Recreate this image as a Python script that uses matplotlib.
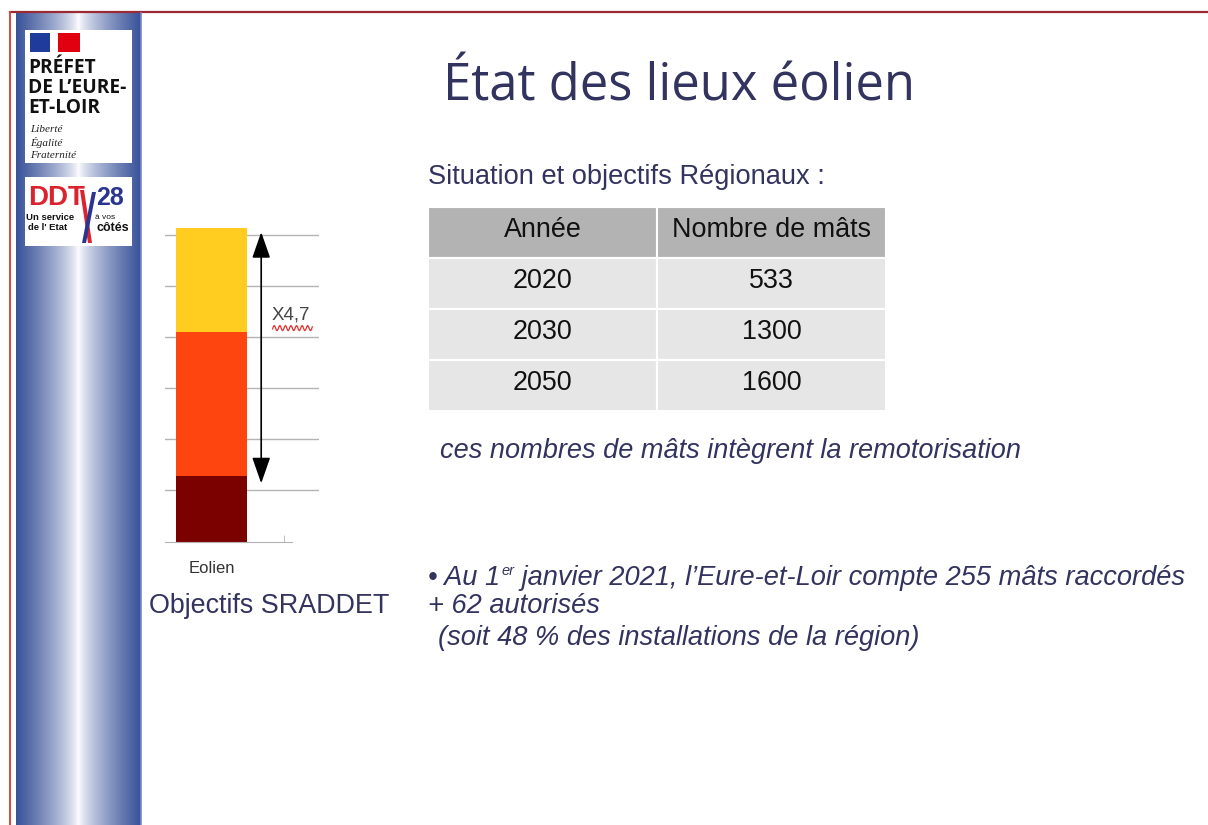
import numpy as np
import matplotlib
matplotlib.use("Agg")
import matplotlib.pyplot as plt
from matplotlib.patches import Rectangle, Polygon

# --- data ---
categorie = ["Eolien"]
segments = [640, 1410, 1020]          # stacked bar, bottom to top
seg_colors = ["#7b0000", "#ff450f", "#ffcc1f"]
grid_step = 500
facteur = "X4,7"

annees = ["2020", "2030", "2050"]
nb_mats = [533, 1300, 1600]
entetes = ["Année", "Nombre de mâts"]

W, H = 1208, 825
NAVY = "#33335f"
plt.rcParams['font.family'] = ['Liberation Sans', 'DejaVu Sans']

fig = plt.figure(figsize=(W / 100, H / 100), dpi=100)
fig.patch.set_facecolor("white")


def fx(x):
    return x / W


def fy(y):
    return 1 - y / H


def box(x0, y0, x1, y1):
    return [fx(x0), fy(y1), fx(x1) - fx(x0), fy(y0) - fy(y1)]


# --- frame lines ---
fig.add_artist(plt.Line2D([fx(10), 1], [fy(12), fy(12)], color="#9b2a35", lw=1.6))
fig.add_artist(plt.Line2D([fx(10), fx(10)], [fy(12), 0], color="#d9443f", lw=1.4))

# --- sidebar gradient ---
ax_s = fig.add_axes(box(16, 13, 141, 825))
t = np.linspace(-1, 1, 256)
w = np.abs(t) ** 0.75
blue = np.array([0.22, 0.32, 0.60])
grad = (1 - w)[:, None] * np.ones(3) + w[:, None] * blue
ax_s.imshow(np.tile(grad[None, :, :], (4, 1, 1)), aspect="auto", extent=[0, 1, 0, 1])
ax_s.axis("off")
fig.add_artist(plt.Line2D([fx(141), fx(141)], [fy(13), 0], color="#7b86c8", lw=1.2))

# --- prefecture logo ---
fig.add_artist(Rectangle((fx(25), fy(163)), fx(132) - fx(25), fy(30) - fy(163),
                         transform=fig.transFigure, facecolor="white", edgecolor="none"))
fig.add_artist(Rectangle((fx(30), fy(52)), fx(50) - fx(30), fy(33) - fy(52),
                         transform=fig.transFigure, facecolor="#1f3c9a", edgecolor="none"))
fig.add_artist(Rectangle((fx(58), fy(52)), fx(80) - fx(58), fy(33) - fy(52),
                         transform=fig.transFigure, facecolor="#e1000f", edgecolor="none"))
fig.add_artist(Rectangle((fx(50), fy(52)), fx(58) - fx(50), fy(33) - fy(52),
                         transform=fig.transFigure, facecolor="white", edgecolor="none"))
for i, ligne in enumerate(["PRÉFET", "DE L’EURE-", "ET-LOIR"]):
    fig.text(fx(28), fy(68 + 20 * i), ligne, fontsize=13.8, fontweight="bold",
             color="#111111", va="center", ha="left", family=["Open Sans", "DejaVu Sans"])
for i, ligne in enumerate(["Liberté", "Égalité", "Fraternité"]):
    fig.text(fx(30), fy(130 + 12.5 * i), ligne, fontsize=8, style="italic",
             color="#222222", va="center", ha="left", family=["Liberation Serif"])

# --- DDT logo ---
fig.add_artist(Rectangle((fx(25), fy(246)), fx(132) - fx(25), fy(177) - fy(246),
                         transform=fig.transFigure, facecolor="white", edgecolor="none"))
fig.text(fx(28), fy(198), "DDT", fontsize=20, fontweight="bold", color="#d9232e",
         va="center", ha="left")
fig.text(fx(96), fy(198), "28", fontsize=18, fontweight="bold", color="#2a3590",
         va="center", ha="left")
fig.add_artist(Polygon([(fx(80), fy(190)), (fx(84), fy(190)), (fx(92), fy(243)), (fx(88), fy(243))],
                       closed=True, transform=fig.transFigure, facecolor="#d9232e", edgecolor="none"))
fig.add_artist(Polygon([(fx(92), fy(192)), (fx(96), fy(192)), (fx(86), fy(243)), (fx(82), fy(243))],
                       closed=True, transform=fig.transFigure, facecolor="#2a3590", edgecolor="none"))
fig.text(fx(26), fy(218), "Un service", fontsize=6.8, fontweight="bold", color="#111111",
         va="center", ha="left")
fig.text(fx(28), fy(228), "de l' Etat", fontsize=6.8, fontweight="bold", color="#111111",
         va="center", ha="left")
fig.text(fx(95), fy(218), "à vos", fontsize=6, color="#111111", va="center", ha="left")
fig.text(fx(97), fy(228), "côtés", fontsize=9, fontweight="bold", color="#111111",
         va="center", ha="left")

# --- title ---
fig.text(fx(443), fy(87), "État des lieux éolien", fontsize=36.5, color=NAVY,
         va="center", ha="left", family=["Open Sans", "DejaVu Sans"])
fig.text(fx(428), fy(177), "Situation et objectifs Régionaux :", fontsize=19.6,
         color=NAVY, va="center", ha="left")

# --- stacked bar chart ---
ax = fig.add_axes(box(165, 225, 319, 541.5))
bottom = 0
for val, col in zip(segments, seg_colors):
    ax.bar(categorie, [val], bottom=bottom, width=1.0, color=col, zorder=2)
    bottom += val
total = bottom
ax.set_xlim(-0.655, 1.514)
ax.set_ylim(0, total + 30)
for g in np.arange(grid_step, total, grid_step):
    ax.axhline(g, color="#b3b3b3", lw=1.0, zorder=1)
for s in ["top", "right", "left"]:
    ax.spines[s].set_visible(False)
ax.spines["bottom"].set_bounds(-0.655, 1.134)
ax.spines["bottom"].set_color("#b3b3b3")
ax.set_yticks([])
ax.set_xticks([0])
ax.set_xticklabels(categorie, fontsize=12, color="#333333")
ax.tick_params(axis="x", length=0, pad=14)
ax.set_xticks([1.02], minor=True)
ax.tick_params(axis="x", which="minor", length=5, color="#b3b3b3", direction="in")
ax.patch.set_alpha(0)

ax.annotate("", xy=(0.70, total - 40), xytext=(0.70, segments[0] - 70),
            arrowprops=dict(arrowstyle="<|-|>,head_length=0.8,head_width=0.28",
                            color="black", lw=1.2, mutation_scale=20,
                            shrinkA=0, shrinkB=0), zorder=3)
ax.text(0.85, 2215, facteur, fontsize=13.5, color="#444444", va="center", ha="left")
xs = np.linspace(0.86, 1.42, 60)
ax.plot(xs, 2090 + 25 * np.sin(xs * 80), color="#e03030", lw=0.9, zorder=3)

fig.text(fx(149), fy(606), "Objectifs SRADDET", fontsize=19.4, color=NAVY,
         va="center", ha="left")

# --- table ---
ax_t = fig.add_axes(box(428, 207, 886, 411))
ax_t.set_xlim(0, 2)
ax_t.set_ylim(len(annees) + 1, 0)
ax_t.axis("off")
split = (657 - 428) / (886 - 428) * 2
cols_x = [(0, split), (split, 2)]
rows = [entetes] + [[a, str(n)] for a, n in zip(annees, nb_mats)]
for r, row in enumerate(rows):
    fc = "#b3b3b3" if r == 0 else "#e6e6e6"
    for c, txt in enumerate(row):
        x0, x1 = cols_x[c]
        ax_t.add_patch(Rectangle((x0, r), x1 - x0, 1, facecolor=fc,
                                 edgecolor="white", lw=1.5))
        ax_t.text((x0 + x1) / 2, r + 0.45, txt, fontsize=19.4, color="#111111",
                  ha="center", va="center")

fig.text(fx(440), fy(451), "ces nombres de mâts intègrent la remotorisation",
         fontsize=19.5, style="italic", color=NAVY, va="center", ha="left")

# --- bullet text ---
fs = 19.6
t1 = fig.text(fx(428), fy(585), "• Au 1", fontsize=fs, style="italic", color=NAVY,
              va="baseline", ha="left")
t2 = fig.text(0, 0, "er", fontsize=10.5, style="italic", color=NAVY, va="top", ha="left",
              transform=None)
t3 = fig.text(0, 0, " janvier 2021, l’Eure-et-Loir compte 255 mâts raccordés", fontsize=fs,
              style="italic", color=NAVY, va="baseline", ha="left", transform=None)
fig.canvas.draw()
r = fig.canvas.get_renderer()
bb = t1.get_window_extent(r)
t2.set_position((bb.x1 + 1, bb.y1 + 1))
bb2 = t2.get_window_extent(r)
t3.set_position((bb2.x1, fig.transFigure.transform((0, fy(585)))[1]))
fig.text(fx(428), fy(613), "+ 62 autorisés", fontsize=fs, style="italic", color=NAVY,
         va="baseline", ha="left")
fig.text(fx(438), fy(645), "(soit 48 % des installations de la région)", fontsize=fs,
         style="italic", color=NAVY, va="baseline", ha="left")

fig.savefig("out.png", dpi=100)
